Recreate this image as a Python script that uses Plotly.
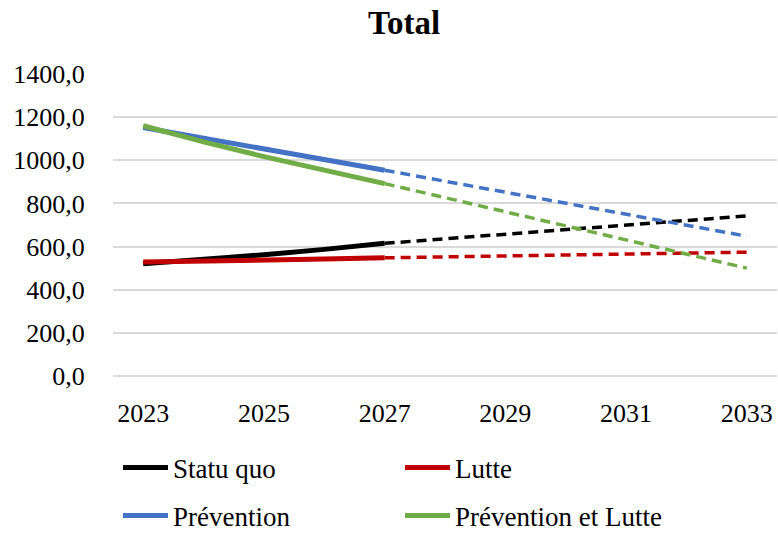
import plotly.graph_objects as go

# Observed years and projection years
years_obs = [2023, 2024, 2025, 2026, 2027]
years_proj = [2027, 2028, 2029, 2030, 2031, 2032, 2033]

# Observed series
statu_quo = [520, 540, 562, 587, 615]
lutte = [528, 531, 536, 542, 548]
prevention = [1152, 1102, 1052, 1003, 954]
prev_lutte = [1160, 1085, 1017, 953, 892]

# Projected series (dashed)
statu_quo_proj = [615, 636, 657, 678, 699, 720, 742]
lutte_proj = [548, 552, 557, 561, 565, 570, 574]
prevention_proj = [954, 903, 852, 801, 750, 699, 648]
prev_lutte_proj = [892, 827, 761, 696, 631, 565, 500]

x_ticks = [2023, 2025, 2027, 2029, 2031, 2033]
y_ticks = [0, 200, 400, 600, 800, 1000, 1200, 1400]

FONT = "Liberation Serif"
series = [
    ("Statu quo", statu_quo, statu_quo_proj, "#000000", "legend"),
    ("Lutte", lutte, lutte_proj, "#C00000", "legend"),
    ("Prévention", prevention, prevention_proj, "#4472C4", "legend2"),
    ("Prévention et Lutte", prev_lutte, prev_lutte_proj, "#70AD47", "legend2"),
]

fig = go.Figure()
for name, obs, proj, color, leg in series:
    fig.add_trace(go.Scatter(
        x=years_proj, y=proj, mode="lines", showlegend=False,
        line=dict(color=color, width=3.5, dash="10px,6px"),
        hoverinfo="skip",
    ))
for name, obs, proj, color, leg in series:
    fig.add_trace(go.Scatter(
        x=years_obs, y=obs, mode="lines", name=name, legend=leg,
        line=dict(color=color, width=5),
    ))

legend_common = dict(
    orientation="h", xref="container", yref="container",
    xanchor="left", yanchor="middle", entrywidth=222,
    font=dict(family=FONT, size=27, color="#000000"),
    bgcolor="rgba(0,0,0,0)", itemwidth=45, traceorder="normal",
)

fig.update_layout(
    width=778, height=533,
    margin=dict(l=113, r=1, t=74, b=157),
    paper_bgcolor="white", plot_bgcolor="white",
    separators=", ",
    font=dict(family=FONT, size=26, color="#000000"),
    title=dict(
        text="<b>Total</b>", font=dict(family=FONT, size=33, color="#000000"),
        xref="container", x=404 / 778, xanchor="center",
        yref="container", y=1 - 22 / 533, yanchor="middle",
    ),
    xaxis=dict(
        range=[2022.5, 2033.5], tickvals=x_ticks, showgrid=False,
        zeroline=False, showline=False, ticks="outside", ticklen=14,
        tickcolor="rgba(0,0,0,0)", tickfont=dict(family=FONT, size=26),
    ),
    yaxis=dict(
        range=[0, 1400], tickvals=y_ticks, tickformat=".1f",
        showgrid=True, gridcolor="#D9D9D9", gridwidth=1.5,
        zeroline=True, zerolinecolor="#D9D9D9", zerolinewidth=1.5,
        showline=False, ticks="outside", ticklen=22,
        tickcolor="rgba(0,0,0,0)", tickfont=dict(family=FONT, size=26),
    ),
    legend=dict(legend_common, x=118 / 778, y=1 - 468 / 533),
    legend2=dict(legend_common, x=118 / 778, y=1 - 516 / 533),
)

fig.write_html("out.html")
